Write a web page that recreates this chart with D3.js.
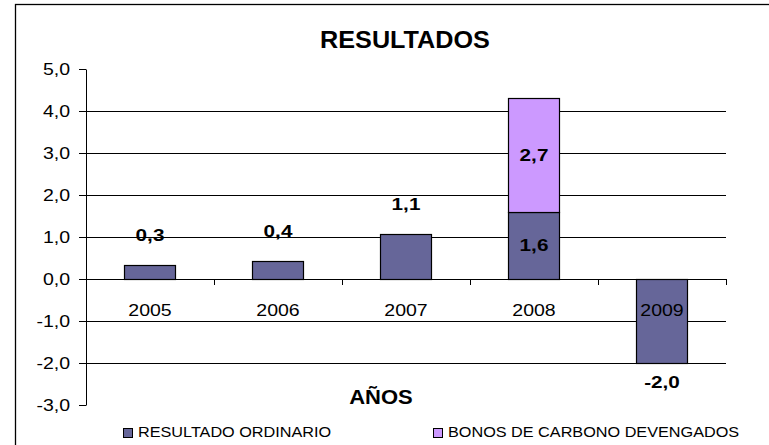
<!DOCTYPE html>
<html>
<head>
<meta charset="utf-8">
<script src="https://cdn.jsdelivr.net/npm/d3@7"></script>
<style>
body { margin: 0; background: #fff; }
svg { display: block; font-family: "Liberation Sans", Arial, sans-serif; }
</style>
</head>
<body>
<script>
// data
var years = ["2005", "2006", "2007", "2008", "2009"];
var ordinario = [0.34, 0.44, 1.07, 1.6, -2.0];
var bonos = [0, 0, 0, 2.7, 0];
var yTicks = [-3, -2, -1, 0, 1, 2, 3, 4, 5];
var seriesNames = ["RESULTADO ORDINARIO", "BONOS DE CARBONO DEVENGADOS"];
var seriesColors = ["#666699", "#CC99FF"];

var width = 769;
var height = 445;
// note: "top" is taken by window.top, so use plot* names
var plotLeft = 86, plotRight = 726, plotTop = 69, plotBottom = 405;
var sx = 1.22; // the reference text is stretched sideways

var es = d3.formatLocale({decimal: ",", thousands: ".", grouping: [3], currency: ["", ""], minus: "-"});
var fmt = es.format(".1f");

var x = d3.scaleBand().domain(years).range([plotLeft, plotRight]).paddingInner(0.6).paddingOuter(0.3);
var xEdge = d3.scaleLinear().domain([0, years.length]).range([plotLeft, plotRight]);
var y = d3.scaleLinear().domain([-3, 5]).range([plotBottom, plotTop]);

var svg = d3.select("body").append("svg").attr("width", width).attr("height", height);

// outer frame
svg.append("rect").attr("x", 15.5).attr("y", 4.5).attr("width", 800).attr("height", 500)
    .attr("fill", "#fff").attr("stroke", "#000").attr("stroke-width", 1.3);

function addText(txt, px, py, size, weight, anchor, scale) {
    return svg.append("text").text(txt)
        .attr("transform", "translate(" + px + "," + py + ") scale(" + scale + ",1)")
        .attr("font-size", size).attr("font-weight", weight)
        .attr("text-anchor", anchor).attr("fill", "#000");
}

// gridlines
var grid = svg.append("g").attr("transform", "translate(" + plotLeft + ",0)")
    .call(d3.axisLeft(y).tickValues([-2, -1, 1, 2, 3, 4]).tickSize(-(plotRight - plotLeft)).tickFormat(""));
grid.select(".domain").remove();
grid.selectAll("line").attr("stroke", "#000");

// y axis
var yAxis = svg.append("g").attr("transform", "translate(" + plotLeft + ",0)")
    .call(d3.axisLeft(y).tickValues(yTicks).tickSize(7).tickSizeOuter(0).tickFormat(fmt));
yAxis.selectAll("line, path").attr("stroke", "#000");
yAxis.selectAll("text").attr("x", null)
    .attr("transform", "translate(-16,0) scale(" + sx + ",1)")
    .attr("font-size", 16).attr("fill", "#000")
    .attr("font-family", "Liberation Sans, Arial, sans-serif");

// bars
svg.append("g").selectAll("rect").data(ordinario).enter().append("rect")
    .attr("x", function (d, i) { return Math.round(x(years[i])) + 0.5; })
    .attr("y", function (d) { return Math.round(y(Math.max(d, 0))) + 0.5; })
    .attr("width", Math.round(x.bandwidth()))
    .attr("height", function (d) { return Math.abs(Math.round(y(d)) - Math.round(y(0))); })
    .attr("fill", seriesColors[0]).attr("stroke", "#000").attr("stroke-width", 1.2);

svg.append("g").selectAll("rect").data(bonos).enter().append("rect")
    .attr("x", function (d, i) { return Math.round(x(years[i])) + 0.5; })
    .attr("y", function (d, i) { return Math.round(y(ordinario[i] + d)) + 0.5; })
    .attr("width", Math.round(x.bandwidth()))
    .attr("height", function (d, i) { return Math.round(y(ordinario[i])) - Math.round(y(ordinario[i] + d)); })
    .attr("display", function (d) { return d > 0 ? null : "none"; })
    .attr("fill", seriesColors[1]).attr("stroke", "#000").attr("stroke-width", 1.2);

// x axis at zero with ticks on the category edges
var xAxis = svg.append("g").attr("transform", "translate(0," + Math.round(y(0)) + ")")
    .call(d3.axisBottom(xEdge).tickValues(d3.range(1, years.length + 1)).tickSize(6).tickSizeOuter(0).tickFormat(""));
xAxis.selectAll("line, path").attr("stroke", "#000");

// year labels
years.forEach(function (yr) {
    addText(yr, x(yr) + x.bandwidth() / 2, y(0) + 37, 16, "normal", "middle", sx);
});

// value labels
ordinario.forEach(function (d, i) {
    var cx = x(years[i]) + x.bandwidth() / 2;
    var py;
    if (bonos[i] > 0) py = (y(d) + y(0)) / 2 + 6;
    else if (d >= 0) py = y(d) - 24;
    else py = y(d) + 25;
    addText(fmt(d), cx, py, 17, "bold", "middle", sx);
});
bonos.forEach(function (d, i) {
    if (d <= 0) return;
    var cx = x(years[i]) + x.bandwidth() / 2;
    addText(fmt(d), cx, (y(ordinario[i]) + y(ordinario[i] + d)) / 2 + 6, 17, "bold", "middle", sx);
});

// titles
addText("RESULTADOS", 405, 48, 24, "bold", "middle", 1.05);
addText("AÑOS", 381, 404, 20, "bold", "middle", 1.1);

// legend
var legendX = [123, 433];
seriesNames.forEach(function (name, i) {
    svg.append("rect").attr("x", legendX[i] + 0.5).attr("y", 428.5).attr("width", 9).attr("height", 9)
        .attr("fill", seriesColors[i]).attr("stroke", "#000").attr("stroke-width", 1);
    addText(name, legendX[i] + 15, 437, 14.5, "normal", "start", 1.12);
});
</script>
</body>
</html>
